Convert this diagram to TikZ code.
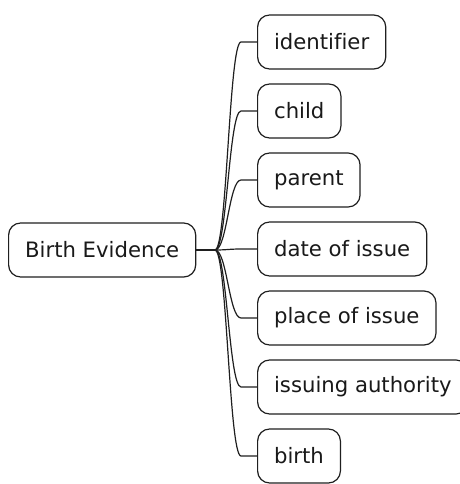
\documentclass[tikz,border=0pt]{standalone}
\usepackage{fontspec}
\setmainfont{DejaVu Sans}[Ligatures=NoCommon]
\begin{document}
\begin{tikzpicture}[x=1pt,y=-1pt,
  mmbox/.style={draw=black!88, line width=1.2pt, fill=white, rounded corners=12pt,
    minimum height=54pt, inner xsep=16.5pt, inner ysep=0pt, anchor=west,
    font=\fontsize{21.2}{25}\selectfont, text=black!90},
  link/.style={draw=black!88, line width=1.2pt}]
\useasboundingbox (0,0) rectangle (459,484);
\node[mmbox] (root) at (8,250) {Birth Evidence};
\coordinate (fork) at (215,250);
\node[mmbox] (c1) at (257,42) {identifier};
\node[mmbox] (c2) at (257,111) {child};
\node[mmbox] (c3) at (257,180) {parent};
\node[mmbox] (c4) at (257,249) {date of issue};
\node[mmbox] (c5) at (257,318) {place of issue};
\node[mmbox] (c6) at (257,387) {issuing authority};
\node[mmbox] (c7) at (257,456) {birth};
\draw[link] (root.east) -- (fork);
\foreach \c in {c1,c2,c3,c4,c5,c6,c7}{
  \draw[link] (fork) .. controls +(12,0) and ([xshift=-28pt]\c.west) .. ([xshift=-16pt]\c.west) -- (\c.west);
}
\end{tikzpicture}
\end{document}
